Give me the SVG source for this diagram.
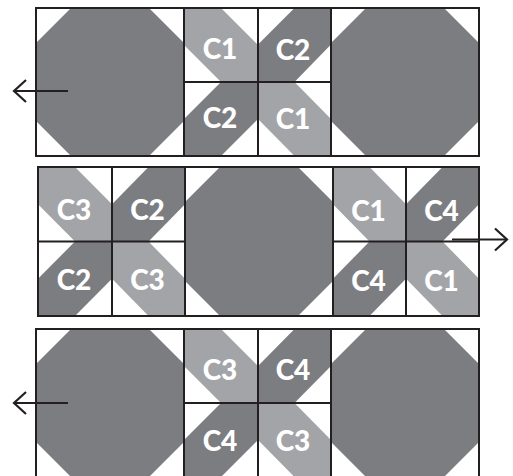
<svg xmlns="http://www.w3.org/2000/svg" width="513" height="476" viewBox="0 0 513 476">
<defs>
<style>
.bg{fill:#ffffff}
.oct{fill:#7c7d81}
.dk{fill:#7c7d81}
.lt{fill:#a3a4a8}
.ln{fill:none;stroke:#231f20;stroke-width:2}
.lbl{font-family:Lato,"Open Sans","DejaVu Sans",sans-serif;font-weight:900;font-size:28px;fill:#ffffff;text-anchor:middle}
.arr{fill:none;stroke:#231f20;stroke-width:2.2}
</style>
<marker id="chev" viewBox="-15 -15 30 30" refX="0" refY="0" markerWidth="30" markerHeight="30" markerUnits="userSpaceOnUse" orient="auto" overflow="visible">
<path d="M-12,-11 L0,0 L-12,11" fill="none" stroke="#231f20" stroke-width="2.2"/>
</marker>
</defs>
<rect class="bg" x="0" y="0" width="513" height="476"/>

<!-- Row 1 -->
<g id="row1">
<g id="r1-oct-left"><rect class="bg" x="36" y="8" width="148" height="148"/><polygon class="oct" points="71,8 149,8 184,43 184,121 149,156 71,156 36,121 36,43"/></g>
<g id="r1-c1-top"><polygon class="lt" points="184,8 221,8 258,45 258,82 221,82 184,45"/><text class="lbl" x="220" y="59">C1</text></g>
<g id="r1-c2-top"><polygon class="dk" points="294.5,8 331,8 331,44.5 294.5,82 258,82 258,44.5"/><text class="lbl" x="293" y="60">C2</text></g>
<g id="r1-c2-bot"><polygon class="dk" points="221,82 258,82 258,119 221,156 184,156 184,119"/><text class="lbl" x="220" y="128">C2</text></g>
<g id="r1-c1-bot"><polygon class="lt" points="258,82 294.5,82 331,119 331,156 294.5,156 258,119"/><text class="lbl" x="293" y="129">C1</text></g>
<g id="r1-oct-right"><polygon class="oct" points="366,8 444,8 479,43 479,121 444,156 366,156 331,121 331,43"/></g>
<g id="r1-grid"><rect class="ln" x="36" y="8" width="443" height="148"/><path class="ln" d="M184,8V156M258,8V156M331,8V156M184,82H331"/></g>
</g>

<!-- Row 2 -->
<g id="row2">
<g id="r2-c3-tl"><polygon class="lt" points="38,167 75,167 112,204.25 112,241.5 75,241.5 38,204.25"/><text class="lbl" x="74" y="220">C3</text></g>
<g id="r2-c2-tr"><polygon class="dk" points="148.5,167 185,167 185,204.25 148.5,241.5 112,241.5 112,204.25"/><text class="lbl" x="147.5" y="220">C2</text></g>
<g id="r2-c2-bl"><polygon class="dk" points="75,241.5 112,241.5 112,278.75 75,316 38,316 38,278.75"/><text class="lbl" x="74" y="290">C2</text></g>
<g id="r2-c3-br"><polygon class="lt" points="112,241.5 148.5,241.5 185,278.75 185,316 148.5,316 112,278.75"/><text class="lbl" x="147.5" y="290">C3</text></g>
<g id="r2-oct"><polygon class="oct" points="220,167 298,167 333,202 333,281 298,316 220,316 185,281 185,202"/></g>
<g id="r2-c1-tl"><polygon class="lt" points="333,167 369.5,167 406,204.25 406,241.5 369.5,241.5 333,204.25"/><text class="lbl" x="368.5" y="221">C1</text></g>
<g id="r2-c4-tr"><polygon class="dk" points="442.5,167 479,167 479,204.25 442.5,241.5 406,241.5 406,204.25"/><text class="lbl" x="441.5" y="221">C4</text></g>
<g id="r2-c4-bl"><polygon class="dk" points="369.5,241.5 406,241.5 406,278.75 369.5,316 333,316 333,278.75"/><text class="lbl" x="368.5" y="291">C4</text></g>
<g id="r2-c1-br"><polygon class="lt" points="406,241.5 442.5,241.5 479,278.75 479,316 442.5,316 406,278.75"/><text class="lbl" x="441.5" y="291">C1</text></g>
<g id="r2-grid"><rect class="ln" x="38" y="167" width="441" height="149"/><path class="ln" d="M112,167V316M185,167V316M333,167V316M406,167V316M38,241.5H185M333,241.5H479"/></g>
</g>

<!-- Row 3 -->
<g id="row3">
<g id="r3-oct-left"><polygon class="oct" points="71,329 149,329 184,364 184,442 149,477 71,477 36,442 36,364"/></g>
<g id="r3-c3-top"><polygon class="lt" points="184,329 221,329 258,366 258,403 221,403 184,366"/><text class="lbl" x="220" y="380">C3</text></g>
<g id="r3-c4-top"><polygon class="dk" points="294.5,329 331,329 331,366 294.5,403 258,403 258,366"/><text class="lbl" x="293" y="380">C4</text></g>
<g id="r3-c4-bot"><polygon class="dk" points="221,403 258,403 258,440 221,477 184,477 184,440"/><text class="lbl" x="220" y="451">C4</text></g>
<g id="r3-c3-bot"><polygon class="lt" points="258,403 294.5,403 331,440 331,477 294.5,477 258,440"/><text class="lbl" x="293" y="451">C3</text></g>
<g id="r3-oct-right"><polygon class="oct" points="366,329 444,329 479,364 479,442 444,477 366,477 331,442 331,364"/></g>
<g id="r3-grid"><rect class="ln" x="36" y="329" width="443" height="148"/><path class="ln" d="M184,329V477M258,329V477M331,329V477M184,403H331"/></g>
</g>

<g id="connectors">
<line class="arr" x1="68" y1="91" x2="14" y2="91" marker-end="url(#chev)"/>
<line class="arr" x1="452" y1="239.5" x2="507" y2="239.5" marker-end="url(#chev)"/>
<line class="arr" x1="68" y1="403" x2="14" y2="403" marker-end="url(#chev)"/>
</g>
</svg>
